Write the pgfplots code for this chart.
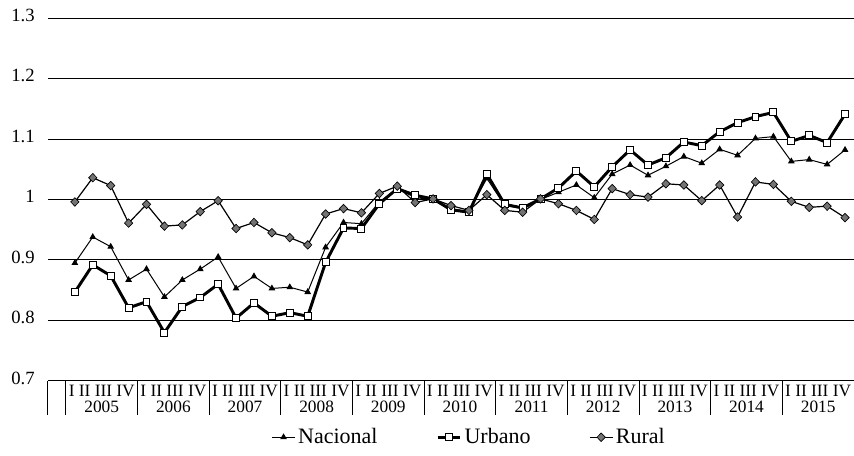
\documentclass[border=0pt]{standalone}
\usepackage{pgfplots}
\pgfplotsset{compat=1.18}
\usepackage{fontspec}
\setmainfont{Liberation Serif}
\definecolor{ruralgray}{RGB}{115,115,115}
\pgfplotstableread{
k nac urb rur
1 0.895 0.847 0.996
2 0.938 0.892 1.036
3 0.922 0.874 1.023
4 0.867 0.821 0.961
5 0.885 0.831 0.992
6 0.839 0.780 0.956
7 0.867 0.823 0.958
8 0.885 0.838 0.980
9 0.905 0.860 0.998
10 0.853 0.804 0.952
11 0.873 0.829 0.962
12 0.853 0.807 0.945
13 0.855 0.813 0.937
14 0.847 0.807 0.925
15 0.921 0.896 0.976
16 0.962 0.953 0.985
17 0.960 0.952 0.978
18 0.996 0.993 1.010
19 1.018 1.018 1.022
20 1.003 1.007 0.995
21 1.000 1.001 1.001
22 0.985 0.983 0.990
23 0.980 0.979 0.982
24 1.035 1.042 1.008
25 0.990 0.992 0.982
26 0.985 0.986 0.979
27 1.000 1.001 1.001
28 1.012 1.019 0.993
29 1.024 1.047 0.982
30 1.003 1.021 0.967
31 1.042 1.054 1.018
32 1.057 1.082 1.008
33 1.040 1.057 1.004
34 1.055 1.069 1.026
35 1.071 1.095 1.024
36 1.060 1.089 0.998
37 1.083 1.112 1.024
38 1.073 1.127 0.971
39 1.101 1.137 1.029
40 1.104 1.144 1.025
41 1.063 1.096 0.997
42 1.066 1.106 0.987
43 1.058 1.094 0.989
44 1.082 1.141 0.970
}\datatable
\begin{document}
\begin{tikzpicture}
\useasboundingbox (-36pt,-56.25pt) rectangle (604.5pt,285.75pt);
\begin{axis}[
  at={(0pt,0pt)}, anchor=south west,
  scale only axis, width=604.5pt, height=272.25pt,
  xmin=-0.5, xmax=44.5, ymin=0.7, ymax=1.3,
  axis line style={draw=none},
  /pgf/number format/assume math mode=true,
  ytick={0.7,0.8,0.9,1,1.1,1.2,1.3},
  yticklabels={0.7,0.8,0.9,1,1.1,1.2,1.3},
  ymajorgrids,
  y grid style={black, line width=0.75pt},
  ytick style={draw=none},
  yticklabel style={font=\fontsize{14}{16}\selectfont, anchor=east, xshift=19pt, yshift=2pt},
  xtick={-0.5,0.5,4.5,8.5,12.5,16.5,20.5,24.5,28.5,32.5,36.5,40.5},
  xticklabels={},
  xtick pos=left,
  tick align=outside,
  major tick length=25.5pt,
  xtick style={black, line width=0.75pt},
  extra x ticks={2.5,6.5,10.5,14.5,18.5,22.5,26.5,30.5,34.5,38.5,42.5},
  extra x tick labels={{I II III IV\\2005},{I II III IV\\2006},{I II III IV\\2007},{I II III IV\\2008},{I II III IV\\2009},{I II III IV\\2010},{I II III IV\\2011},{I II III IV\\2012},{I II III IV\\2013},{I II III IV\\2014},{I II III IV\\2015}},
  extra x tick style={major tick length=0pt, xtick style={draw=none}, xticklabel style={align=center, font=\fontsize{13}{12}\selectfont, inner sep=1pt, yshift=-2pt}},
  legend columns=3,
  legend style={at={(0.523,-0.155)}, anchor=center, draw=none, fill=none,
    font=\fontsize{16.5}{18}\selectfont,
    /tikz/every even column/.append style={column sep=42pt}},
  legend cell align=left,
]
\addplot[black, line width=0.75pt, mark=triangle*, mark size=2.2pt] table[x=k, y=nac] {\datatable};
\addlegendentry{Nacional}
\addplot[black, line width=2.2pt, mark=square*, mark size=2.6pt, mark options={fill=white, line width=0.75pt}] table[x=k, y=urb] {\datatable};
\addlegendentry{Urbano}
\addplot[black, line width=0.9pt, mark=diamond*, mark size=3.2pt, mark options={fill=ruralgray, line width=0.5pt, xscale=1.3}] table[x=k, y=rur] {\datatable};
\addlegendentry{Rural}
\end{axis}
\end{tikzpicture}
\end{document}
